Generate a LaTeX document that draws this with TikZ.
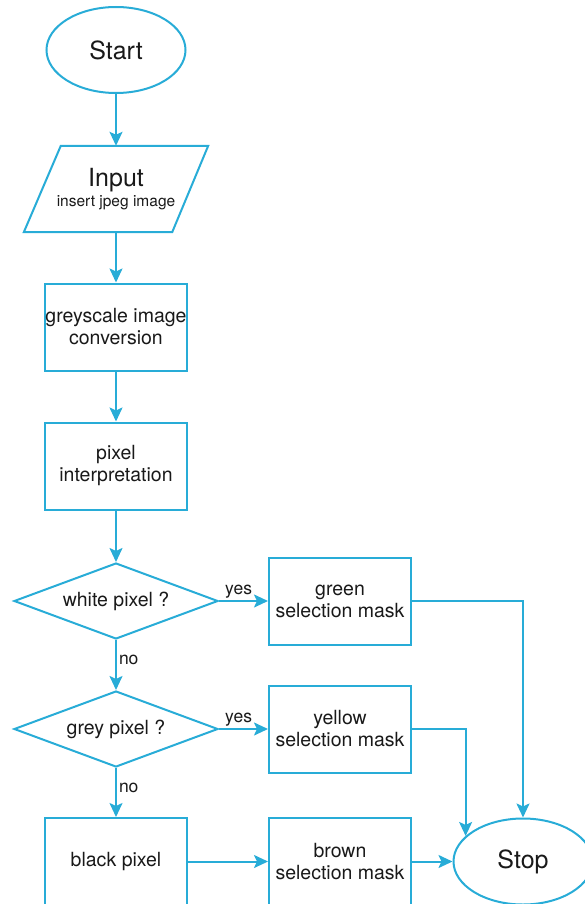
\documentclass[tikz,border=0pt]{standalone}
\usepackage{fontspec}
\setmainfont{TeX Gyre Heros}
\usetikzlibrary{shapes.geometric,arrows.meta}
\definecolor{flowblue}{RGB}{40,172,215}
\begin{document}
\begin{tikzpicture}[x=1pt,y=1pt,
  every node/.style={text=black!90, font=\fontsize{19.5}{22}\selectfont, align=center},
  outline/.style={draw=flowblue, line width=2pt},
  procbox/.style={outline, rectangle, minimum width=142pt, minimum height=87pt, inner sep=0pt},
  terminal/.style={outline, ellipse, minimum width=139pt, minimum height=86pt, inner sep=0pt,
                   font=\fontsize{25}{28}\selectfont},
  decision/.style={outline, diamond, shape aspect=2.68, minimum width=204pt, minimum height=76pt, inner sep=0pt},
  flow/.style={draw=flowblue, line width=2pt, -{Stealth[length=14pt,width=13pt,inset=3pt]}},
  lbl/.style={font=\fontsize{17.5}{20}\selectfont, inner sep=2pt}
]
\useasboundingbox (0,0) rectangle (584,-904);

% main column
\node[terminal] (start) at (116,-50) {Start};
\node[minimum width=184pt, minimum height=86pt, inner sep=0pt] (input) at (116,-189)
  {{\fontsize{25}{28}\selectfont Input}\\[-2pt]{\fontsize{15.5}{18}\selectfont insert jpeg image}};
\draw[outline] (input.south west) -- ([xshift=37pt]input.north west) -- (input.north east)
  -- ([xshift=-36pt]input.south east) -- cycle;
\node[procbox] (grey) at (116,-327) {greyscale image\\conversion};
\node[procbox] (interp) at (116,-466) {pixel\\interpretation};
\node[decision] (white) at (116,-601) {white pixel ?};
\node[decision] (greyd) at (116,-729) {grey pixel ?};
\node[procbox] (black) at (116,-861.5) {black pixel};

% selection masks and end
\node[procbox] (green) at (340,-601) {green\\selection mask};
\node[procbox] (yellow) at (340,-729) {yellow\\selection mask};
\node[procbox] (brown) at (340,-861.5) {brown\\selection mask};
\node[terminal] (stop) at (523,-861.5) {Stop};

% connectors
\draw[flow] (start) -- (input);
\draw[flow] (input) -- (grey);
\draw[flow] (grey) -- (interp);
\draw[flow] (interp) -- (white);
\draw[flow] (white) -- node[lbl, above, pos=0.4] {yes} (green);
\draw[flow] (white) -- node[lbl, right, pos=0.4] {no} (greyd);
\draw[flow] (greyd) -- node[lbl, above, pos=0.4] {yes} (yellow);
\draw[flow] (greyd) -- node[lbl, right, pos=0.4] {no} (black);
\draw[flow] (black) -- (brown);
\draw[flow] (brown) -- (stop);
\draw[flow] (green.east) -| (stop.north);
\draw[flow] (yellow.east) -| (stop.156);
\end{tikzpicture}
\end{document}
